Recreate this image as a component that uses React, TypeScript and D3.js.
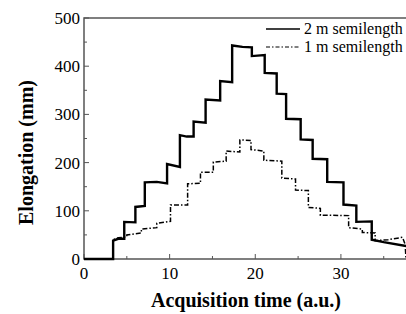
import { useEffect, useRef } from 'react'
import * as d3 from 'd3'

// [time, elongation], two points per plateau
const semi2m: [number, number][] = [
  [0, 0], [3.4, 0], [3.4, 38], [4.0, 42], [4.7, 42], [4.7, 77], [6.0, 76], [6.0, 108],
  [7.1, 110], [7.1, 159], [8.5, 160], [9.7, 157], [9.7, 197], [11.2, 191], [11.2, 257],
  [12.0, 254], [12.8, 254], [12.8, 285], [14.2, 283], [14.2, 331], [15.9, 329], [15.9, 369],
  [17.3, 367], [17.3, 443], [18.5, 440], [19.6, 439], [19.6, 421], [21.1, 423], [21.1, 386],
  [22.5, 385], [22.5, 343], [23.6, 342], [23.6, 291], [25.3, 290], [25.3, 248], [26.7, 247],
  [26.7, 208], [28.4, 207], [28.4, 160], [30.3, 159], [30.3, 113], [31.8, 111], [31.8, 77],
  [33.6, 78], [33.6, 40], [35.0, 35], [37.6, 27],
]

const semi1m: [number, number][] = [
  [0, 0], [3.4, 0], [3.4, 40], [4.0, 44], [5.0, 46], [5.0, 50], [6.7, 54], [6.7, 62],
  [8.5, 65], [8.5, 74], [10.1, 78], [10.1, 112], [12.1, 112], [12.1, 156], [13.6, 157],
  [13.6, 180], [15.1, 180], [15.1, 201], [16.6, 203], [16.6, 224], [18.2, 222], [18.2, 247],
  [19.5, 246], [19.5, 227], [21.0, 224], [21.0, 205], [23.1, 203], [23.1, 168], [24.7, 166],
  [24.7, 143], [26.2, 142], [26.2, 107], [27.6, 105], [27.6, 91], [30.9, 90], [30.9, 65],
  [32.5, 62], [32.5, 55], [34.0, 54], [34.0, 38], [35.5, 40], [37.2, 45], [37.5, 30], [37.6, 0],
]

const xTicks = [0, 10, 20, 30]
const yTicks = [0, 100, 200, 300, 400, 500]
const legendLabels = ['2 m semilength', '1 m semilength']

export default function App() {
  const ref = useRef<SVGSVGElement>(null)

  useEffect(() => {
    if (!ref.current) return
    const svg = d3.select(ref.current)
    svg.selectAll('*').remove()

    const W = 406, H = 314
    const m = { left: 84, top: 18, right: 0, bottom: 55 }
    const x = d3.scaleLinear().domain([0, 37.6]).range([m.left, W - m.right])
    const y = d3.scaleLinear().domain([0, 500]).range([H - m.bottom, m.top])
    const axisCol = '#555'

    // frame
    svg.append('path')
      .attr('d', `M${x(37.6)},${y(500)}H${x(0)}V${y(0)}H${x(37.6)}`)
      .attr('fill', 'none').attr('stroke', axisCol).attr('stroke-width', 1.5)

    // ticks (inward)
    d3.range(0, 37, 5).forEach(v => {
      const len = v % 10 === 0 ? 5 : 3
      svg.append('line').attr('x1', x(v)).attr('x2', x(v))
        .attr('y1', y(0)).attr('y2', y(0) - len).attr('stroke', axisCol)
    })
    d3.range(0, 501, 50).forEach(v => {
      const len = v % 100 === 0 ? 5 : 3
      svg.append('line').attr('x1', x(0)).attr('x2', x(0) + len)
        .attr('y1', y(v)).attr('y2', y(v)).attr('stroke', axisCol)
    })

    svg.selectAll('.xt').data(xTicks).join('text')
      .attr('x', d => x(d)).attr('y', y(0) + 20)
      .attr('text-anchor', 'middle').attr('font-size', 17)
      .text(d => d)
    svg.selectAll('.yt').data(yTicks).join('text')
      .attr('x', x(0) - 4).attr('y', d => y(d) + 6)
      .attr('text-anchor', 'end').attr('font-size', 17)
      .text(d => d)

    svg.append('text')
      .attr('x', 246).attr('y', 307)
      .attr('text-anchor', 'middle')
      .attr('font-size', 20).attr('font-weight', 'bold')
      .text('Acquisition time (a.u.)')
    svg.append('text')
      .attr('transform', `translate(33,${(y(0) + y(500)) / 2 + 14}) rotate(-90)`)
      .attr('text-anchor', 'middle')
      .attr('font-size', 20).attr('font-weight', 'bold')
      .text('Elongation (mm)')

    const line = d3.line<[number, number]>().x(d => x(d[0])).y(d => y(d[1]))
    svg.append('path').datum(semi1m).attr('d', line)
      .attr('fill', 'none').attr('stroke', '#000').attr('stroke-width', 1.5)
      .attr('stroke-dasharray', '5,2,1.5,2')
    svg.append('path').datum(semi2m).attr('d', line)
      .attr('fill', 'none').attr('stroke', '#000').attr('stroke-width', 2.4)

    // legend
    const styles = [{ w: 1.5, dash: null }, { w: 1.2, dash: '4,2,1.5,2' }]
    legendLabels.forEach((lab, i) => {
      const ly = 29 + i * 18
      svg.append('line').attr('x1', 266).attr('x2', 300).attr('y1', ly).attr('y2', ly)
        .attr('stroke', '#000').attr('stroke-width', styles[i].w)
        .attr('stroke-dasharray', styles[i].dash)
      svg.append('text').attr('x', 304).attr('y', ly + 5)
        .attr('font-size', 16).text(lab)
    })
  }, [])

  return <svg ref={ref} width={406} height={314}
    style={{ position: 'absolute', left: 0, top: 0, background: '#fff',
      fontFamily: 'Liberation Serif, DejaVu Serif, serif' }} />
}
